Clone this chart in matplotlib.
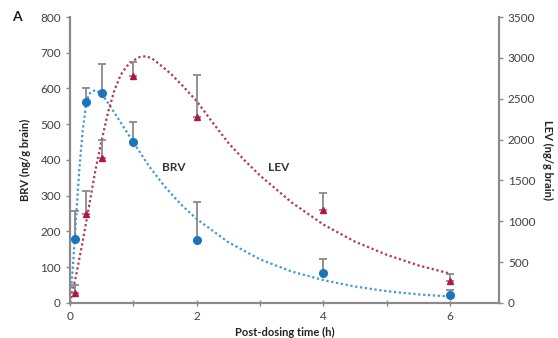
import matplotlib
matplotlib.use('Agg')
import matplotlib.pyplot as plt
import numpy as np

plt.rcParams['font.family'] = ['Lato', 'DejaVu Sans']

# measured points (mean, upper end of error bar)
time = [0.083, 0.25, 0.5, 1, 2, 4, 6]
brv_mean = [179, 562, 587, 450, 175, 85, 22]
brv_top = [257, 600, 668, 505, 283, 122, 36]
lev_mean = [120, 1086, 1772, 2778, 2275, 1138, 273]
lev_top = [220, 1370, 1990, 2953, 2790, 1343, 355]

# fitted curves
brv_fit_t = [0, 0.05, 0.1, 0.15, 0.2, 0.25, 0.3, 0.4, 0.5, 0.6, 0.8, 1.0, 1.25, 1.5,
             1.75, 2.0, 2.5, 3.0, 3.5, 4.0, 4.5, 5.0, 5.5, 6.0]
brv_fit = [0, 110, 250, 380, 480, 550, 585, 596, 585, 560, 505, 450, 382, 325,
           276, 235, 170, 122, 88, 64, 46, 33, 24, 18]
lev_fit_t = [0, 0.1, 0.2, 0.3, 0.4, 0.5, 0.6, 0.7, 0.8, 0.9, 1.0, 1.1, 1.2, 1.3, 1.4,
             1.6, 1.8, 2.0, 2.25, 2.5, 2.75, 3.0, 3.5, 4.0, 4.5, 5.0, 5.5, 6.0]
lev_fit = [0, 350, 750, 1180, 1620, 1990, 2330, 2600, 2790, 2900, 2965, 3010, 3020, 2990, 2930,
           2800, 2640, 2470, 2210, 1960, 1750, 1560, 1230, 960, 750, 590, 460, 360]

blue = '#1b75bb'
red = '#b3173f'
grey = '#8a8a8a'
txt = '#404040'

fig = plt.figure(figsize=(5.58, 3.38), dpi=100)
ax = fig.add_axes([0.1254, 0.1036, 0.7686, 0.8461])
ax2 = ax.twinx()

# left axis: BRV
ax.plot(brv_fit_t, brv_fit, ls=(0, (1, 1.2)), lw=1.6, color='#3c9ad6', zorder=2)
ax.errorbar(time, brv_mean, yerr=[np.zeros(len(time)), np.array(brv_top) - np.array(brv_mean)],
            fmt='none', ecolor=grey, elinewidth=1.3, capsize=3, capthick=1.3, zorder=3)
ax.plot(time, brv_mean, 'o', color=blue, ms=5.5, zorder=4)

# right axis: LEV
ax2.plot(lev_fit_t, lev_fit, ls=(0, (1, 1.2)), lw=1.6, color='#b3345e', zorder=2)
ax2.errorbar(time, lev_mean, yerr=[np.zeros(len(time)), np.array(lev_top) - np.array(lev_mean)],
             fmt='none', ecolor=grey, elinewidth=1.3, capsize=3, capthick=1.3, zorder=3)
ax2.plot(time, lev_mean, '^', color=red, ms=5, zorder=4)

ax.set_xlim(0, 6.77)
ax.set_ylim(0, 800)
ax2.set_ylim(0, 3500)
ax.set_xticks([0, 2, 4, 6])
ax.set_xticks([1, 3, 5], minor=True)
ax.set_yticks(np.arange(0, 801, 100))
ax2.set_yticks(np.arange(0, 3501, 500))

for a in (ax, ax2):
    for s in a.spines.values():
        s.set_color(grey)
        s.set_linewidth(1.5)
    a.spines['top'].set_visible(False)
    a.tick_params(which='both', colors=grey, labelcolor=txt, labelsize=8.5, width=1, length=3)

ax.tick_params(axis='x', which='both', direction='inout', length=5)

ax.set_xlabel('Post-dosing time (h)', fontsize=8, fontweight='bold', color='#222222', labelpad=3)
ax.set_ylabel('BRV (ng/g brain)', fontsize=8, fontweight='bold', color='#222222', labelpad=7)
ax2.set_ylabel('LEV (ng/g brain)', fontsize=8, fontweight='bold', color='#222222',
               rotation=270, labelpad=13)

ax.text(1.64, 380, 'BRV', fontsize=8.5, fontweight='bold', color='#333333', ha='center', va='center')
ax.text(3.3, 380, 'LEV', fontsize=8.5, fontweight='bold', color='#333333', ha='center', va='center')
fig.text(0.022, 0.95, 'A', fontsize=10, fontweight='bold', color='#222222', va='center')

fig.savefig('out.png', dpi=100)
